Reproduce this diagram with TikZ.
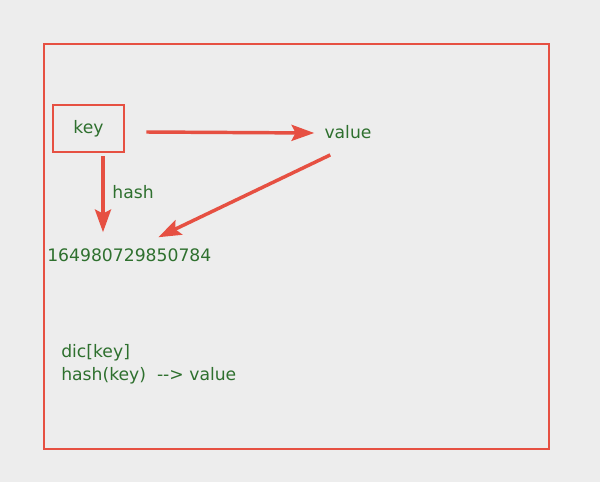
\documentclass[tikz,border=0pt]{standalone}
\usepackage{fontspec}
\setmainfont{DejaVu Sans}
\usepackage{tikz}
\usetikzlibrary{arrows.meta, positioning}
\definecolor{bgray}{RGB}{237,237,237}
\definecolor{redline}{RGB}{230,80,66}
\definecolor{txtgreen}{RGB}{46,112,46}
\tikzstyle{label} = [text=txtgreen, font=\fontsize{12.9}{17.25}\selectfont, inner sep=0pt]
\tikzstyle{keybox} = [draw=redline, line width=2.2pt, minimum width=53.25pt, minimum height=35.25pt, text=txtgreen, font=\fontsize{12.9}{17.25}\selectfont]
\tikzstyle{arrow} = [draw=redline, line width=2.6pt, -{Stealth[length=17pt, width=12pt, inset=3pt]}]

\begin{document}
\begin{tikzpicture}[x=0.75pt, y=-0.75pt]
\fill[bgray] (0,0) rectangle (600,482);
\useasboundingbox (0,0) rectangle (600,482);
\draw[redline, line width=2pt] (44,44) rectangle (549,449);

\node (key) [keybox] at (88.5,128.5) {key};
\node (value) [label] at (348,132) {value};
\node (hash) [label] at (133,192) {hash};
\node (num) [label, anchor=west] at (47,255) {164980729850784};
\node (code) [label, anchor=north west, align=left] at (61,344) {dic[key]\\hash(key)\ \ -{}-> value};

% arrow ends
\coordinate (kr) at ([shift={(21,3.5)}]key.east);
\coordinate (vl) at ([shift={(-10,1)}]value.west);
\coordinate (kb) at ([shift={(14.5,3)}]key.south);
\coordinate (nt) at ([shift={(-26,-16)}]num.north);
\coordinate (vb) at ([shift={(6,16)}]value.south west);
\coordinate (nr) at ([shift={(29,-11)}]num.north);

\draw [arrow] (kr) -- (vl);
\draw [arrow] (kb) -- (kb |- nt);
\draw [arrow] (vb) -- (nr);
\end{tikzpicture}
\end{document}
